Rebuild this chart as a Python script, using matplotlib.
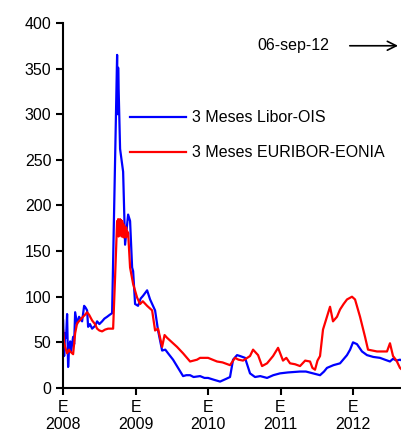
import matplotlib.pyplot as plt

plt.rcParams['font.family'] = ['Liberation Sans', 'DejaVu Sans']
plt.rcParams['font.size'] = 11

# x in decimal years since Jan 2008
libor_x = [0.0, 0.014, 0.028, 0.041, 0.055, 0.069, 0.083, 0.097, 0.11, 0.138, 0.152,
           0.166, 0.193, 0.22, 0.262, 0.29, 0.31, 0.331, 0.345, 0.37, 0.4, 0.44,
           0.469, 0.5, 0.538, 0.57, 0.607, 0.64, 0.676, 0.69, 0.717, 0.745, 0.752,
           0.759, 0.786, 0.828, 0.855, 0.897, 0.924, 0.952, 0.966, 0.993, 1.034,
           1.07, 1.103, 1.159, 1.2, 1.269, 1.31, 1.366, 1.41, 1.448, 1.517, 1.586,
           1.655, 1.7, 1.752, 1.8, 1.89, 1.95, 2.0, 2.08, 2.166, 2.25, 2.303, 2.345,
           2.4, 2.441, 2.51, 2.579, 2.648, 2.72, 2.814, 2.9, 2.993, 3.1, 3.269, 3.35,
           3.448, 3.545, 3.6, 3.641, 3.73, 3.821, 3.917, 3.96, 4.0, 4.055, 4.124,
           4.193, 4.28, 4.372, 4.44, 4.51, 4.552, 4.6, 4.648, 4.676]
libor_y = [74, 35, 60, 55, 81, 23, 45, 51, 40, 56, 48,
           83, 70, 78, 73, 90, 88, 85, 67, 70, 65, 68,
           73, 70, 73, 76, 78, 80, 82, 139, 249, 365, 300,
           351, 262, 237, 157, 190, 183, 132, 128, 92, 90,
           98, 101, 107, 97, 85, 63, 41, 42, 38, 31, 22,
           13, 14, 14, 12, 13, 11, 11, 9, 7, 10, 12, 31,
           36, 35, 33, 16, 12, 13, 11, 14, 16, 17, 18, 18,
           16, 14, 18, 22, 25, 27, 36, 42, 50, 48, 40,
           36, 34, 33, 31, 29, 32, 30, 31, 30]

euribor_x = [0.0, 0.014, 0.028, 0.055, 0.083, 0.097, 0.138, 0.166, 0.193, 0.23, 0.262,
             0.3, 0.331, 0.36, 0.4, 0.44, 0.469, 0.5, 0.538, 0.58, 0.621, 0.69, 0.717,
             0.745, 0.752, 0.759, 0.765, 0.772, 0.779, 0.786, 0.793, 0.8, 0.807,
             0.814, 0.821, 0.828, 0.834, 0.841, 0.848, 0.855, 0.862, 0.869, 0.876,
             0.883, 0.89, 0.897, 0.924, 0.966, 1.021, 1.062, 1.1, 1.159, 1.228,
             1.269, 1.31, 1.366, 1.4, 1.434, 1.503, 1.572, 1.655, 1.752, 1.848, 1.89,
             2.0, 2.124, 2.2, 2.303, 2.372, 2.42, 2.483, 2.579, 2.621, 2.69, 2.745,
             2.814, 2.897, 2.966, 3.034, 3.08, 3.131, 3.2, 3.269, 3.34, 3.407, 3.44,
             3.476, 3.51, 3.545, 3.586, 3.683, 3.724, 3.779, 3.821, 3.87, 3.917, 3.986,
             4.028, 4.097, 4.166, 4.207, 4.331, 4.469, 4.51, 4.552, 4.6, 4.648, 4.676]
euribor_y = [63, 50, 45, 38, 42, 40, 37, 60, 71, 74, 77,
             80, 83, 80, 74, 70, 65, 63, 62, 64, 65, 65, 121,
             183, 168, 185, 166, 182, 168, 185, 170, 184, 166,
             183, 168, 180, 165, 178, 166, 175, 165, 176, 166,
             172, 168, 170, 132, 114, 99, 92, 95, 90, 85,
             63, 65, 45, 58, 55, 50, 45, 38, 29, 31, 33,
             33, 29, 28, 25, 33, 31, 30, 35, 42, 36, 24,
             27, 35, 44, 30, 33, 27, 26, 24, 30, 29, 22,
             20, 30, 35, 64, 89, 73, 78, 86, 92, 97, 100,
             97, 78, 56, 42, 40, 40, 49, 35, 30, 22, 20]

year_ticks = [0, 1, 2, 3, 4]
year_labels = ["E\n2008", "E\n2009", "E\n2010", "E\n2011", "E\n2012"]

fig = plt.figure(figsize=(4.02, 4.33), dpi=100)
ax = fig.add_axes([0.157, 0.104, 0.843, 0.843])

ax.plot(libor_x, libor_y, color='#0000ff', linewidth=1.6, label='3 Meses Libor-OIS')
ax.plot(euribor_x, euribor_y, color='#ff0000', linewidth=1.6, label='3 Meses EURIBOR-EONIA')

ax.set_xlim(0, 4.676)
ax.set_ylim(0, 400)
ax.set_yticks(range(0, 401, 50))
ax.set_xticks(year_ticks)
ax.set_xticklabels(year_labels)

for side in ['top', 'right']:
    ax.spines[side].set_visible(False)
for side in ['left', 'bottom']:
    ax.spines[side].set_linewidth(1.5)
ax.tick_params(direction='out', length=5, width=1.5, labelsize=11.5, colors='black')

ax.legend(loc='upper left', bbox_to_anchor=(0.198, 0.761), frameon=False,
          borderpad=0, borderaxespad=0, handlelength=3.5, handletextpad=0.35,
          labelspacing=1.25, fontsize=11.5)

ax.text(3.17, 375, "06-sep-12", ha='center', va='center', fontsize=11.5)
ax.annotate("", xy=(4.66, 375), xytext=(3.917, 375),
            arrowprops=dict(arrowstyle='->', color='black', linewidth=1.2,
                            mutation_scale=16),
            annotation_clip=False)

plt.savefig("out.png", dpi=100)
